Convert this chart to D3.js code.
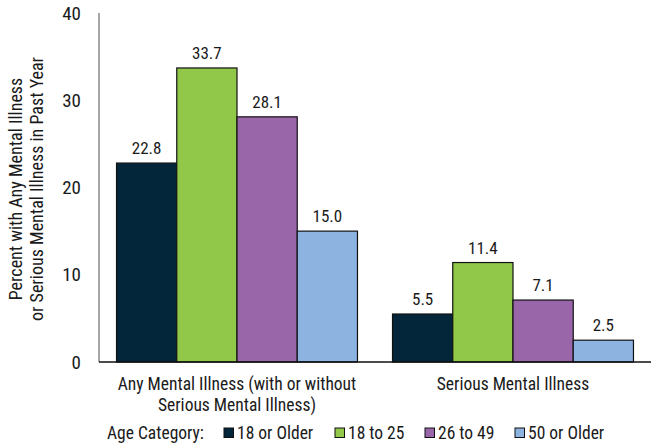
<!DOCTYPE html>
<html><head><meta charset="utf-8">
<script src="https://cdn.jsdelivr.net/npm/d3@7"></script>
<style>
body{margin:0;background:#fff;}
text{font-family:"Liberation Sans Narrow","Roboto Condensed","Arial Narrow",sans-serif;fill:#1a1a1a;}
</style></head><body>
<svg id="c" width="655" height="446"></svg>
<script>
const categories = ["Any Mental Illness (with or without|Serious Mental Illness)", "Serious Mental Illness"];
const seriesNames = ["18 or Older", "18 to 25", "26 to 49", "50 or Older"];
const seriesColors = ["#03263a", "#92c84a", "#9966aa", "#8db3e0"];
const values18Older = [22.8, 5.5];
const values18to25 = [33.7, 11.4];
const values26to49 = [28.1, 7.1];
const values50Older = [15.0, 2.5];
const yTicks = [0, 10, 20, 30, 40];

const seriesValues = [values18Older, values18to25, values26to49, values50Older];
const svg = d3.select("#c");
const m = {l: 99, r: 651, t: 13, b: 362};

const x0 = d3.scaleBand().domain(categories).range([m.l, m.r]).paddingInner(0.127).paddingOuter(0.0635);
const x1 = d3.scaleBand().domain(seriesNames).range([0, x0.bandwidth()]);
const y = d3.scaleLinear().domain([0, 40]).range([m.b, m.t]);

// y tick labels
svg.append("g").selectAll("text").data(yTicks).join("text")
  .attr("x", 81).attr("y", d => y(d)).attr("dy", "0.35em")
  .attr("text-anchor", "end").attr("font-size", 19).text(d => d);

// axis title
const yt = svg.append("text").attr("transform", "translate(24," + 189 + ") rotate(-90)")
  .attr("text-anchor", "middle").attr("font-size", 18);
yt.append("tspan").attr("x", 0).attr("dy", "-0.1em").text("Percent with Any Mental Illness");
yt.append("tspan").attr("x", 0).attr("dy", "1.15em").text("or Serious Mental Illness in Past Year");

// bars
const groups = svg.append("g").selectAll("g").data(categories).join("g")
  .attr("transform", d => `translate(${x0(d)},0)`);
groups.selectAll("rect").data((c, ci) => seriesNames.map((s, si) => ({s, si, v: seriesValues[si][ci]})))
  .join("rect")
  .attr("x", d => x1(d.s)).attr("width", x1.bandwidth())
  .attr("y", d => y(d.v)).attr("height", d => y(0) - y(d.v))
  .attr("fill", d => seriesColors[d.si]).attr("stroke", "#111").attr("stroke-width", 1.2);
groups.selectAll("text").data((c, ci) => seriesNames.map((s, si) => ({s, si, v: seriesValues[si][ci]})))
  .join("text")
  .attr("x", d => x1(d.s) + x1.bandwidth() / 2).attr("y", d => y(d.v) - 9)
  .attr("text-anchor", "middle").attr("font-size", 17).text(d => d.v.toFixed(1));

// axes lines
svg.append("line").attr("x1", m.l).attr("x2", m.l).attr("y1", m.t).attr("y2", m.b)
  .attr("stroke", "#888").attr("stroke-width", 1.5);
svg.append("line").attr("x1", m.l).attr("x2", m.r).attr("y1", m.b).attr("y2", m.b)
  .attr("stroke", "#111").attr("stroke-width", 1.5);

// category labels
categories.forEach(c => {
  const t = svg.append("text").attr("text-anchor", "middle").attr("font-size", 17.5);
  c.split("|").forEach((ln, i) => {
    t.append("tspan").attr("x", x0(c) + x0.bandwidth() / 2).attr("y", 390 + i * 21).text(ln);
  });
});

// legend
const lg = svg.append("g").attr("transform", "translate(0,439)");
lg.append("text").attr("x", 107).attr("y", 0).attr("font-size", 17.5).text("Age Category:");
const legX = [224, 335, 425, 515];
seriesNames.forEach((s, i) => {
  lg.append("rect").attr("x", legX[i]).attr("y", -11).attr("width", 9.5).attr("height", 9.5)
    .attr("fill", seriesColors[i]).attr("stroke", "#111").attr("stroke-width", 1);
  lg.append("text").attr("x", legX[i] + 13).attr("y", 0).attr("font-size", 17.5).text(s);
});
</script></body></html>
